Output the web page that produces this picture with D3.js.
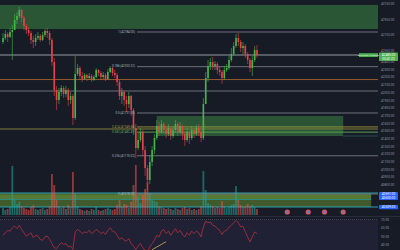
<!DOCTYPE html>
<html>
<head>
<meta charset="utf-8">
<script src="https://cdn.jsdelivr.net/npm/d3@7"></script>
<style>
  body { margin: 0; background: #171b26; }
  svg { display: block; font-family: Roboto, 'DejaVu Sans', sans-serif; }
</style>
</head>
<body>
<svg width="400" height="250"></svg>
<script>
var width = 400;
var height = 250;
var plotRight = 378;

// candles (open = previous close)
var firstOpen = 42654;
var closes = [42706, 42758, 42719, 42784, 42810, 42940, 42992, 43070, 42966, 42862,
  42810, 42771, 42680, 42654, 42706, 42732, 42680, 42745, 42797, 42771,
  42680, 42394, 42030, 41900, 42004, 42056, 41978, 42030, 41900, 41952,
  41666, 42238, 42316, 42212, 42173, 42225, 42186, 42212, 42160, 42199,
  42290, 42251, 42199, 42225, 42173, 42264, 42316, 42251, 42225, 42134,
  41952, 42004, 41900, 41848, 41952, 41770, 41536, 41276, 41380, 41484,
  41250, 41016, 40860, 41094, 41250, 41406, 41562, 41484, 41588, 41510,
  41458, 41536, 41432, 41510, 41588, 41484, 41562, 41458, 41380, 41484,
  41406, 41510, 41458, 41536, 41484, 41406, 41848, 42186, 42342, 42394,
  42342, 42368, 42290, 42264, 42186, 42290, 42316, 42420, 42498, 42602,
  42706, 42654, 42576, 42602, 42498, 42420, 42316, 42420, 42550, 42485];
var highs = [42771, 42810, 42784, 42836, 42875, 43018, 43044, 43109, 43083, 42992,
  42888, 42849, 42797, 42732, 42758, 42784, 42758, 42784, 42823, 42836,
  42797, 42706, 42446, 42082, 42056, 42095, 42082, 42082, 42056, 42004,
  41978, 42472, 42368, 42342, 42264, 42251, 42238, 42251, 42238, 42225,
  42316, 42303, 42277, 42264, 42251, 42303, 42342, 42329, 42290, 42251,
  42160, 42056, 42030, 41952, 42004, 41965, 41796, 41588, 41471, 41536,
  41510, 41302, 41055, 41185, 41302, 41458, 41640, 41614, 41640, 41614,
  41562, 41588, 41562, 41549, 41640, 41614, 41614, 41588, 41484, 41536,
  41510, 41562, 41536, 41575, 41588, 41536, 41926, 42264, 42420, 42446,
  42459, 42407, 42394, 42342, 42290, 42342, 42368, 42472, 42576, 42654,
  42758, 42771, 42680, 42654, 42628, 42524, 42446, 42472, 42602, 42615];
var lows = [42628, 42680, 42654, 42706, 42420, 42810, 42888, 42966, 42914, 42810,
  42758, 42732, 42628, 42576, 42602, 42680, 42654, 42667, 42719, 42706,
  42615, 42342, 41952, 41770, 41848, 41952, 41926, 41939, 41822, 41848,
  41575, 41640, 42212, 42160, 42134, 42160, 42147, 42160, 42134, 42147,
  42186, 42212, 42160, 42173, 42147, 42160, 42251, 42212, 42186, 42082,
  41900, 41848, 41822, 41744, 41796, 41692, 41445, 41146, 41250, 41354,
  41172, 40912, 40730, 40808, 41042, 41198, 41380, 41432, 41458, 41458,
  41406, 41432, 41380, 41406, 41484, 41432, 41458, 41380, 41302, 41354,
  41328, 41380, 41406, 41432, 41432, 41354, 41380, 42022, 42134, 42290,
  42290, 42290, 42238, 42212, 42108, 42160, 42264, 42290, 42394, 42472,
  42576, 42602, 42524, 42498, 42446, 42368, 42264, 42212, 42394, 42446];
var volumes = [14, 10, 12, 16, 98, 30, 22, 26, 18, 14,
  12, 10, 16, 20, 12, 10, 12, 14, 10, 12,
  18, 82, 60, 30, 18, 14, 16, 12, 20, 16,
  86, 44, 18, 12, 10, 8, 10, 8, 12, 10,
  16, 10, 8, 10, 12, 14, 12, 10, 12, 20,
  30, 18, 22, 20, 14, 26, 60, 100, 36, 24,
  40, 52, 66, 44, 30, 28, 26, 18, 16, 14,
  12, 14, 12, 10, 14, 12, 10, 14, 16, 12,
  14, 10, 12, 10, 12, 18, 88, 50, 24, 20,
  18, 14, 16, 14, 28, 18, 14, 16, 20, 22,
  58, 30, 20, 16, 18, 22, 18, 20, 16, 12];
var rsi = [51, 54, 57, 56, 60, 62, 59, 63, 58, 54,
  50, 52, 54, 48, 51, 50, 46, 45, 49, 50,
  46, 41, 36, 35, 39, 42, 40, 41, 37, 38,
  34, 55, 58, 56, 53, 55, 54, 57, 53, 55,
  58, 56, 53, 55, 52, 57, 60, 56, 55, 51,
  46, 48, 45, 44, 47, 41, 38, 34, 38, 41,
  36, 33, 31, 37, 41, 45, 51, 49, 56, 58,
  53, 56, 51, 55, 59, 54, 57, 52, 49, 54,
  51, 56, 53, 56, 54, 49, 61, 68, 66, 67,
  63, 62, 59, 57, 52, 56, 57, 61, 63, 66,
  69, 66, 61, 62, 55, 49, 43, 49, 55, 53];

// price axis ticks
var priceTicks = [43150, 42950, 42750, 42550, 42400, 42300, 42200, 42100, 42000, 41900,
  41800, 41700, 41600, 41500, 41400, 41300, 41200, 41100, 41000, 40900, 40800];
var rsiTicks = [70, 60, 50, 40];

// fibonacci retracement
var fibHigh = 42784;
var fibLow = 40678;
var fibLevels = [1, 0.786, 0.5, 0.414, 0.382, 0.236, 0];

// horizontal levels drawn across the whole pane
var levelPrices = [42485, 42166, 42017, 41523];

// zones [top price, bottom price]
var topZone = [43135, 42823];
var midZone = [41692, 41432];
var midZoneIdx = [66, 146];
var lowZone = [40691, 40509];
var lowZoneEnd = 158;
var eventIdx = [122, 131, 138, 146];
// rsi trendline [index, value]
var rsiTrend = [[64, 33.6], [70, 43.3]];

var svg = d3.select('svg');

// Scales
var x = d3.scaleLinear().domain([0, 160]).range([3, 375.8]);
var y = d3.scaleLinear().domain([40405, 43200]).range([215, 0]);
var vol = d3.scaleLinear().domain([0, 100]).range([215, 165]);
var ry = d3.scaleLinear().domain([30, 70]).range([252.7, 219.5]);

var up = '#43b74a', down = '#e8414b';
var grey = '#787b86';

svg.append('rect').attr('width', width).attr('height', height).attr('fill', '#171b26');

svg.append('clipPath').attr('id', 'plot')
  .append('rect').attr('x', 0).attr('y', 0).attr('width', plotRight).attr('height', 216);
var plot = svg.append('g').attr('clip-path', 'url(#plot)');

// top zone
plot.append('rect')
  .attr('x', 0).attr('width', plotRight)
  .attr('y', y(topZone[0])).attr('height', y(topZone[1]) - y(topZone[0]))
  .attr('fill', '#4caf50').attr('fill-opacity', 0.4);

// middle zone
plot.append('rect')
  .attr('x', x(midZoneIdx[0])).attr('width', x(midZoneIdx[1]) - x(midZoneIdx[0]))
  .attr('y', y(midZone[0])).attr('height', y(midZone[1]) - y(midZone[0]))
  .attr('fill', '#4caf50').attr('fill-opacity', 0.38);
plot.append('line')
  .attr('x1', x(midZoneIdx[1])).attr('x2', plotRight)
  .attr('y1', y(midZone[1])).attr('y2', y(midZone[1]))
  .attr('stroke', '#2a5a5a').attr('stroke-width', 0.8);

// lower zone
var lz0 = y(lowZone[0]), lz1 = y(lowZone[1]);
plot.append('rect')
  .attr('x', 0).attr('width', x(lowZoneEnd))
  .attr('y', lz0).attr('height', lz1 - lz0)
  .attr('fill', '#6a9a30').attr('fill-opacity', 0.5);
plot.append('rect')
  .attr('x', 0).attr('width', x(lowZoneEnd))
  .attr('y', lz0 + 1.5).attr('height', 4.5)
  .attr('fill', '#8bc34a').attr('fill-opacity', 0.3);
[lz0, lz0 + 6.5, lz1].forEach(function(v, k) {
  plot.append('line')
    .attr('x1', 0).attr('x2', k == 1 ? x(lowZoneEnd) : plotRight)
    .attr('y1', v).attr('y2', v)
    .attr('stroke', k == 1 ? '#2f8f8a' : '#2bb0c4').attr('stroke-width', 0.9);
});

// horizontal levels
var levelColors = ['#9598a1', '#a0622d', grey, '#8f8a3a'];
levelPrices.forEach(function(p, k) {
  plot.append('line')
    .attr('x1', 0).attr('x2', plotRight)
    .attr('y1', y(p)).attr('y2', y(p))
    .attr('stroke', levelColors[k]).attr('stroke-width', k == 0 ? 1.2 : 0.9);
});

// fib levels
var fibColors = { 0.414: '#a09a40', 0.382: '#5fae5a' };
fibLevels.forEach(function(l) {
  var p = fibLow + l * (fibHigh - fibLow);
  var c = fibColors[l] || grey;
  plot.append('line')
    .attr('x1', 137).attr('x2', plotRight)
    .attr('y1', y(p)).attr('y2', y(p))
    .attr('stroke', c).attr('stroke-width', 0.9);
  svg.append('text')
    .attr('x', 135).attr('y', y(p))
    .attr('text-anchor', 'end').attr('dominant-baseline', 'middle')
    .attr('font-size', 3).attr('fill', fibColors[l] || '#b2b5be')
    .text(l + ' (' + p.toFixed(2) + ')');
});

// volume
var opens = closes.map(function(c, i) { return i == 0 ? firstOpen : closes[i - 1]; });
plot.selectAll('rect.vol').data(volumes).enter().append('rect')
  .attr('class', 'vol')
  .attr('x', function(d, i) { return x(i) - 0.9; })
  .attr('width', 1.8)
  .attr('y', function(d) { return vol(d); })
  .attr('height', function(d) { return 215 - vol(d); })
  .attr('fill', function(d, i) { return closes[i] >= opens[i] ? '#26a69a' : '#ef5350'; })
  .attr('fill-opacity', 0.55);

// candles
var candles = plot.selectAll('g.c').data(closes).enter().append('g').attr('class', 'c');
candles.append('line')
  .attr('x1', function(d, i) { return x(i); })
  .attr('x2', function(d, i) { return x(i); })
  .attr('y1', function(d, i) { return y(Math.max(highs[i], opens[i], d)); })
  .attr('y2', function(d, i) { return y(Math.min(lows[i], opens[i], d)); })
  .attr('stroke', function(d, i) { return d >= opens[i] ? up : down; })
  .attr('stroke-width', 0.6);
candles.append('rect')
  .attr('x', function(d, i) { return x(i) - 0.8; })
  .attr('width', 1.6)
  .attr('y', function(d, i) { return y(Math.max(opens[i], d)); })
  .attr('height', function(d, i) { return Math.max(0.6, Math.abs(y(opens[i]) - y(d))); })
  .attr('fill', function(d, i) { return d >= opens[i] ? up : down; });

// event markers
svg.selectAll('circle.ev').data(eventIdx).enter().append('circle')
  .attr('cx', function(d) { return x(d); }).attr('cy', 212)
  .attr('r', 2.6).attr('fill', '#e0525c');
svg.selectAll('circle.evi').data(eventIdx).enter().append('circle')
  .attr('cx', function(d) { return x(d); }).attr('cy', 212)
  .attr('r', 1.2).attr('fill', '#5b7be0');

// RSI pane
svg.append('line').attr('x1', 0).attr('x2', width).attr('y1', 216.5).attr('y2', 216.5)
  .attr('stroke', '#2a2e39').attr('stroke-width', 1);
svg.append('rect').attr('x', 0).attr('width', plotRight)
  .attr('y', ry(70)).attr('height', ry(30) - ry(70))
  .attr('fill', '#7e57c2').attr('fill-opacity', 0.1);
svg.append('line').attr('x1', 0).attr('x2', plotRight).attr('y1', ry(70)).attr('y2', ry(70))
  .attr('stroke', '#5d606b').attr('stroke-width', 0.6).attr('stroke-dasharray', '1,1');
svg.append('path').datum(rsi)
  .attr('d', d3.line().x(function(d, i) { return x(i); }).y(function(d) { return ry(d); }))
  .attr('fill', 'none').attr('stroke', '#b2303f').attr('stroke-width', 0.8);
// trendline on RSI
svg.append('path').datum(rsiTrend)
  .attr('d', d3.line().x(function(d) { return x(d[0]); }).y(function(d) { return ry(d[1]); }))
  .attr('stroke', '#c9b458').attr('stroke-width', 0.8).attr('fill', 'none');

// price axis
var yAxis = d3.axisRight(y).tickValues(priceTicks).tickSize(0).tickPadding(3)
  .tickFormat(d3.format('.2f'));
var ga = svg.append('g').attr('transform', 'translate(' + [plotRight, 0] + ')').call(yAxis);
ga.select('.domain').remove();
ga.selectAll('text').attr('font-size', 3.2).attr('fill', '#8b90a0').attr('font-family', 'Roboto, sans-serif');

var rAxis = d3.axisRight(ry).tickValues(rsiTicks).tickSize(0).tickPadding(3)
  .tickFormat(d3.format('.2f'));
var gr = svg.append('g').attr('transform', 'translate(' + [plotRight, 0] + ')').call(rAxis);
gr.select('.domain').remove();
gr.selectAll('text').attr('font-size', 3.2).attr('fill', '#8b90a0').attr('font-family', 'Roboto, sans-serif');

// last price tag
var last = closes[closes.length - 1];
svg.append('rect').attr('x', 359).attr('y', y(last) - 1.8).attr('width', 19).attr('height', 3.8)
  .attr('fill', '#4caf50');
svg.append('text').attr('x', 368.5).attr('y', y(last) + 0.1)
  .attr('text-anchor', 'middle').attr('dominant-baseline', 'middle')
  .attr('font-size', 2.4).attr('fill', '#e8f5e9').text('BTCUSDT ' + last.toFixed(2));
svg.append('rect').attr('x', 379).attr('y', y(last) - 2.5).attr('width', 19).attr('height', 8.5)
  .attr('fill', '#4caf50').attr('rx', 0.8);
svg.append('text').attr('x', 388.5).attr('y', y(last) + 0.4)
  .attr('text-anchor', 'middle').attr('dominant-baseline', 'middle')
  .attr('font-size', 3.2).attr('fill', '#ffffff').text(last.toFixed(2));
svg.append('text').attr('x', 388.5).attr('y', y(last) + 4)
  .attr('text-anchor', 'middle').attr('dominant-baseline', 'middle')
  .attr('font-size', 3.2).attr('fill', '#ffffff').text('00:41:23');

// zone labels on axis
svg.append('rect').attr('x', 379).attr('y', lz0 - 1).attr('width', 19).attr('height', 8)
  .attr('fill', '#2962ff').attr('rx', 0.8);
svg.append('text').attr('x', 388.5).attr('y', lz0 + 1.4)
  .attr('text-anchor', 'middle').attr('dominant-baseline', 'middle')
  .attr('font-size', 3.2).attr('fill', '#ffffff').text(lowZone[0].toFixed(2));
svg.append('text').attr('x', 388.5).attr('y', lz0 + 4.8)
  .attr('text-anchor', 'middle').attr('dominant-baseline', 'middle')
  .attr('font-size', 3.2).attr('fill', '#ffffff').text('40600.00');
svg.append('rect').attr('x', 379).attr('y', lz1 - 2).attr('width', 19).attr('height', 4.2)
  .attr('fill', '#2962ff').attr('rx', 0.8);
svg.append('text').attr('x', 388.5).attr('y', lz1 + 0.1)
  .attr('text-anchor', 'middle').attr('dominant-baseline', 'middle')
  .attr('font-size', 3.2).attr('fill', '#ffffff').text(lowZone[1].toFixed(2));
</script>
</body>
</html>
